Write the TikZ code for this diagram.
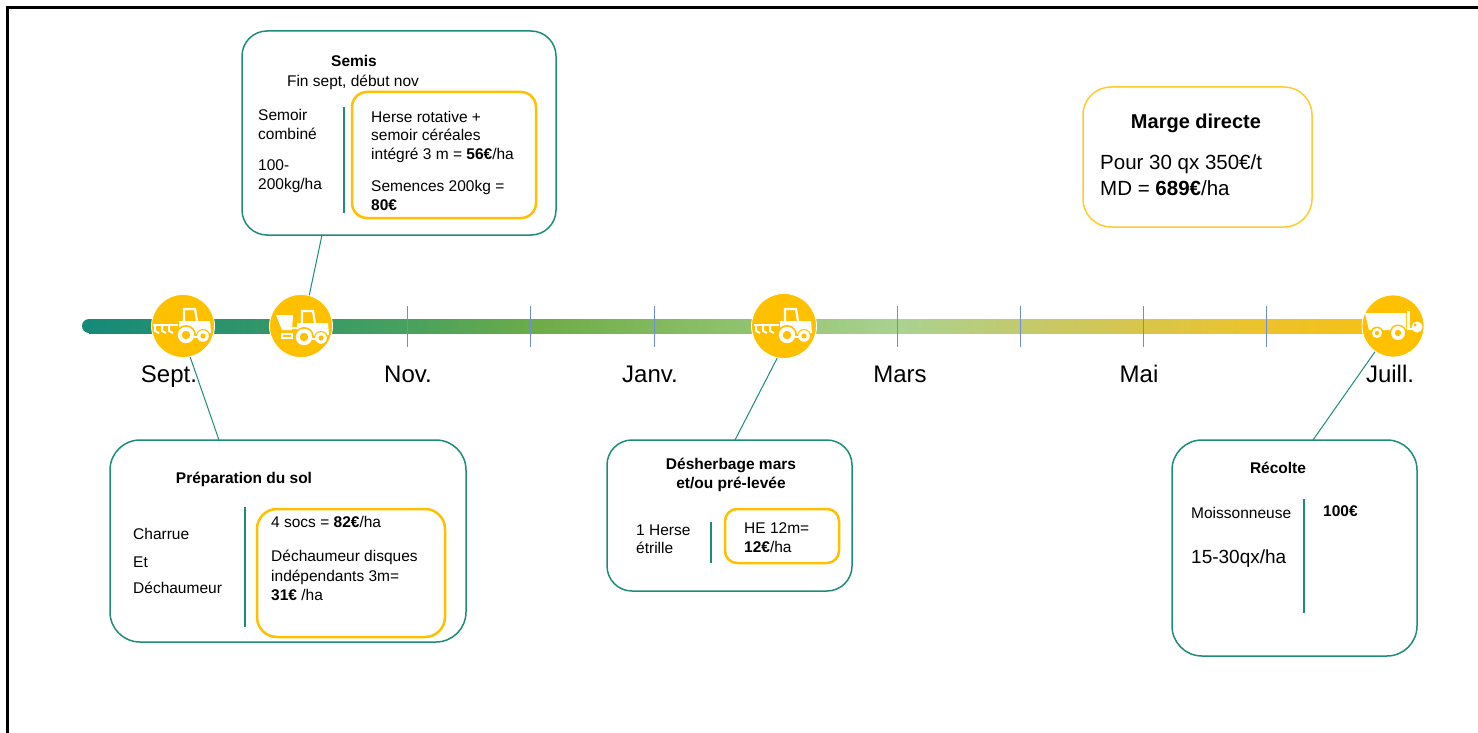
\documentclass[tikz,border=0pt]{standalone}
\usepackage{fontspec}
\setmainfont{Liberation Sans}
\usetikzlibrary{calc}
\definecolor{tealb}{RGB}{30,140,120}
\definecolor{gold}{RGB}{255,192,0}
\definecolor{goldl}{RGB}{255,202,50}
\definecolor{tickc}{RGB}{110,140,215}
\definecolor{g0}{RGB}{22,138,120}
\definecolor{g1}{RGB}{70,160,95}
\definecolor{g2}{RGB}{110,172,72}
\definecolor{g3}{RGB}{140,192,105}
\definecolor{g4}{RGB}{170,210,145}
\definecolor{g5}{RGB}{200,200,100}
\definecolor{g6}{RGB}{235,195,45}
\definecolor{g7}{RGB}{246,192,20}
\newcommand\fa{\fontsize{15.5}{18}\selectfont}
\newcommand\fm{\fontsize{24}{28}\selectfont}
\tikzset{
  t/.style={inner sep=0pt, anchor=base west, font=\fa},
  tc/.style={inner sep=0pt, anchor=base, font=\fa},
  mon/.style={inner sep=0pt, anchor=base, font=\fm},
  tealbox/.style={draw=tealb, line width=1.5pt, fill=white},
  goldbox/.style={draw=gold, line width=2.5pt},
  icon/.style={circle, fill=gold, draw=white, line width=0.8pt, inner sep=0pt},
  conn/.style={draw=tealb, line width=1pt},
  sep/.style={draw=tealb, line width=1.2pt},
  pics/ptractor/.style={code={
    \fill[white] (-4,-5) rectangle (13,6);
    \fill[white] (12,-5) -- (27,-5) -- (28,7) -- (12,8) -- cycle;
    \draw[white, line width=2.2pt] (1,-5) -- (1,-17) -- (12,-17) -- (14,-5);
    \fill[gold] (3,9) circle (10);
    \fill[white] (3,9) circle (8.2);
    \fill[gold] (3,9) circle (4.2);
    \fill[gold] (20,10) circle (7);
    \fill[white] (20,10) circle (5.8);
    \fill[gold] (20,10) circle (2.6);
    \draw[white, line width=2pt] (11,11) -- (15,11);
  }},
  pics/pplough/.style={code={
    \draw[white, line width=2.2pt] (-30,-1) -- (-5,-1);
    \foreach \q in {-28,-21,-14}{
      \draw[white, line width=2pt] (\q,-1) -- (\q,5) -- (\q+4,7);
    }
  }},
  pics/phopper/.style={code={
    \fill[white] (-25,-11) -- (-8,-11) -- (-9,4) -- (-19,4) -- cycle;
    \draw[white, line width=1.8pt] (-19,8) rectangle (-9,12);
    \draw[white, line width=2pt] (-9,2) -- (-3,2);
  }},
  pics/pharvest/.style={code={
    \fill[white] (-28,-13) -- (13,-13) -- (13,4) -- (-24,4) -- cycle;
    \fill[white] (14,-15) rectangle (17,4);
    \fill[gold] (-16,7) circle (6.5);
    \fill[white] (-16,7) circle (5);
    \fill[gold] (-16,7) circle (2.2);
    \fill[gold] (5,7) circle (8.5);
    \fill[white] (5,7) circle (7);
    \fill[gold] (5,7) circle (3.2);
    \draw[white, line width=2pt] (16,3) -- (22,3);
    \fill[white] (24,1) circle (5.5);
    \fill[gold] (22,-1) circle (1.6);
  }}
}
\begin{document}
\begin{tikzpicture}[x=1pt,y=-1pt]
\useasboundingbox (0,0) rectangle (1478,733);
\fill[white] (0,0) rectangle (1478,733);
\draw[line width=2.5pt] (7.5,733) -- (7.5,7.5) -- (1478,7.5);

% timeline bar
\fill[g0] (89,326) circle (7);
\shade[left color=g0, right color=g1] (89,319) rectangle (400.5,333);
\shade[left color=g1, right color=g2] (400,319) rectangle (540.5,333);
\shade[left color=g2, right color=g3] (540,319) rectangle (720.5,333);
\shade[left color=g3, right color=g4] (720,319) rectangle (900.5,333);
\shade[left color=g4, right color=g5] (900,319) rectangle (1050.5,333);
\shade[left color=g5, right color=g6] (1050,319) rectangle (1250.5,333);
\shade[left color=g6, right color=g7] (1250,319) rectangle (1392,333);

\foreach \x in {407,530,654,897,1020,1143,1266}{
  \draw[tickc, line width=0.9pt] (\x,306) -- (\x,347);
}

% month labels
\node[mon] (m1) at (169,382) {Sept.};
\node[mon] (m2) at (408,382) {Nov.};
\node[mon] (m3) at (650,382) {Janv.};
\node[mon] (m4) at (900,382) {Mars};
\node[mon] (m5) at (1139,382) {Mai};
\node[mon] (m6) at (1390,382) {Juill.};

% icons
\node[icon, minimum size=63pt] (i1) at (183,326) {};
\node[icon, minimum size=63pt] (i2) at (301,326) {};
\node[icon, minimum size=65pt] (i3) at (784,326) {};
\node[icon, minimum size=62pt] (i4) at (1393,326) {};
\pic at (i1) {ptractor};
\pic at (i1) {pplough};
\pic at ($(i2)+(0,2)$) {ptractor};
\pic at (i2) {phopper};
\pic at (i3) {ptractor};
\pic at (i3) {pplough};
\pic at (i4) {pharvest};

% boxes
\node[tealbox, rounded corners=25pt, minimum width=314pt, minimum height=204pt] (semis) at (399,133) {};
\node[tealbox, rounded corners=30pt, minimum width=356pt, minimum height=202pt] (prep) at (288,541) {};
\node[tealbox, rounded corners=25pt, minimum width=245pt, minimum height=151pt] (desh) at (729.5,515.5) {};
\node[tealbox, rounded corners=30pt, minimum width=245pt, minimum height=216pt] (recol) at (1294.5,548) {};
\node[draw=goldl, line width=1.5pt, rounded corners=28pt, minimum width=229pt, minimum height=140pt] (marge) at (1197.5,157) {};

\node[goldbox, rounded corners=15pt, minimum width=184pt, minimum height=126pt] (semisy) at (444,155) {};
\node[goldbox, rounded corners=20pt, minimum width=188pt, minimum height=128pt] (prepy) at (351,573) {};
\node[goldbox, rounded corners=12pt, minimum width=114pt, minimum height=54pt] (deshy) at (782,536) {};

% separators
\draw[sep] (344,107) -- (344,213);
\draw[sep] (245,507) -- (245,627);
\draw[sep] (711,522) -- (711,563);
\draw[sep] (1304,499) -- (1304,613);

% connectors
\coordinate (k2) at (322,235);
\coordinate (k1) at (219,440);
\coordinate (k3) at (735,440);
\coordinate (k4) at (1313,440);
\draw[conn] (k2) -- (i2.75);
\draw[conn] (i1.-77) -- (k1);
\draw[conn] (i3.-102) -- (k3);
\draw[conn] (i4.-125) -- (k4);

% Semis texts
\node[tc] (s1) at (354,67) {\bfseries Semis};
\node[tc] (s2) at (353,87) {Fin sept, début nov};
\node[t] (s3) at (258,121) {Semoir};
\node[t] (s4) at (258,140) {combiné};
\node[t] (s5) at (258,170.5) {100-};
\node[t] (s6) at (258,189.5) {200kg/ha};
\node[t] (s7) at (371,122.5) {Herse rotative +};
\node[t] (s8) at (371,141) {semoir céréales};
\node[t] (s9) at (371,160) {intégré 3 m = \textbf{56€}/ha};
\node[t] (s10) at (371,191) {Semences 200kg =};
\node[t] (s11) at (371,210) {\textbf{80€}};

% Preparation texts
\node[tc] (p1) at (244,483) {\bfseries Préparation du sol};
\node[t] (p2) at (133,539) {Charrue};
\node[t] (p3) at (133,567) {Et};
\node[t] (p4) at (133,593) {Déchaumeur};
\node[t] (p5) at (271,527) {4 socs = \textbf{82€}/ha};
\node[t] (p6) at (271,561) {Déchaumeur disques};
\node[t] (p7) at (271,581) {indépendants 3m=};
\node[t] (p8) at (271,600) {\textbf{31€} /ha};

% Desherbage texts
\node[tc] (d1) at (731,469) {\bfseries Désherbage mars};
\node[tc] (d2) at (731,488) {\bfseries et/ou pré-levée};
\node[t] (d3) at (636,535) {1 Herse};
\node[t] (d4) at (636,553) {étrille};
\node[t] (d5) at (744,533) {HE 12m=};
\node[t] (d6) at (744,552) {\textbf{12€}/ha};

% Recolte texts
\node[tc] (r1) at (1278,473) {\bfseries Récolte};
\node[t] (r2) at (1191,518) {Moissonneuse};
\node[t, font=\fontsize{19}{22}\selectfont] (r3) at (1191,563) {15-30qx/ha};
\node[t] (r4) at (1323,516) {\textbf{100€}};

% Marge texts
\node[tc, font=\fontsize{20}{24}\selectfont] (g1) at (1196,129) {\bfseries Marge directe};
\node[t, font=\fontsize{20.5}{24}\selectfont] (g2) at (1100,169) {Pour 30 qx 350€/t};
\node[t, font=\fontsize{20.5}{24}\selectfont] (g3) at (1100,195) {MD = \textbf{689€}/ha};
\end{tikzpicture}
\end{document}
